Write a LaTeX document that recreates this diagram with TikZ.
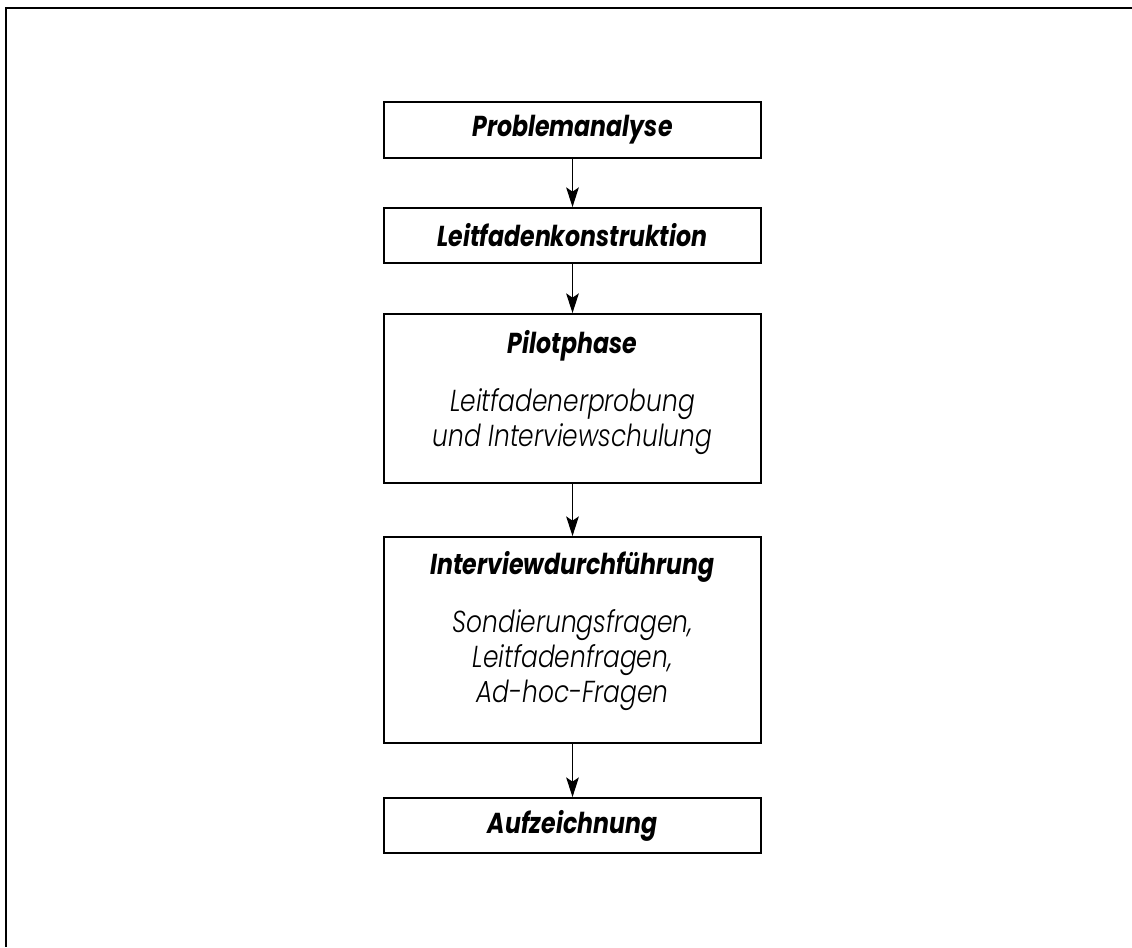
\documentclass[tikz,border=0pt]{standalone}
\usepackage{fontspec}
\setmainfont{Poppins}[FakeStretch=0.82, ItalicFont={Poppins Light Italic}, BoldItalicFont={Poppins Bold Italic}]
\usetikzlibrary{arrows.meta,positioning}
\tikzset{
    stage/.style={draw, line width=1.3pt, minimum width=9.425cm, inner sep=0pt},
    headtext/.style={font=\fontsize{20.5}{24}\selectfont\bfseries\itshape},
    bodytext/.style={font=\fontsize{21.6}{24.9}\selectfont\itshape, align=center, inner sep=0pt},
    flow/.style={line width=0.9pt, -{Stealth[length=14pt, width=9pt, inset=3pt]}},
}
\begin{document}
\begin{tikzpicture}
            \useasboundingbox (0,0) rectangle (28.3,-23.675);
            % Rahmen
            \draw [line width=1.4pt](28.3,-0.2) -- (0.15,-0.2) -- (0.15,-23.675);
            \node [stage, headtext, minimum height=1.4cm] (problem) at (14.3125,-3.25) {Problemanalyse};
            \node [stage, headtext, minimum height=1.375cm] (leitfaden) at (14.3125,-5.8875) {Leitfadenkonstruktion};
            \node [stage, minimum height=4.225cm] (pilot) at (14.3125,-9.9625) {};
            \node [headtext, anchor=base] (pilottitle) at (14.3125,-8.825) {Pilotphase};
            \node [bodytext] (pilotbody) at (14.3125,-10.55) {Leitfadenerprobung\\und Interviewschulung};
            \node [stage, minimum height=5.15cm] (durchf) at (14.3125,-16.0) {};
            \node [headtext, anchor=base] (durchftitle) at (14.3125,-14.35) {Interviewdurchführung};
            \node [bodytext] (durchfbody) at (14.3125,-16.5) {Sondierungsfragen,\\Leitfadenfragen,\\Ad-hoc-Fragen};
            \node [stage, headtext, minimum height=1.375cm] (aufz) at (14.3125,-20.6375) {Aufzeichnung};
            % Pfeile
            \draw [flow] (problem) -- (leitfaden);
            \draw [flow] (leitfaden) -- (pilot);
            \draw [flow] (pilot) -- (durchf);
            \draw [flow] (durchf) -- (aufz);
        \end{tikzpicture}
\end{document}
